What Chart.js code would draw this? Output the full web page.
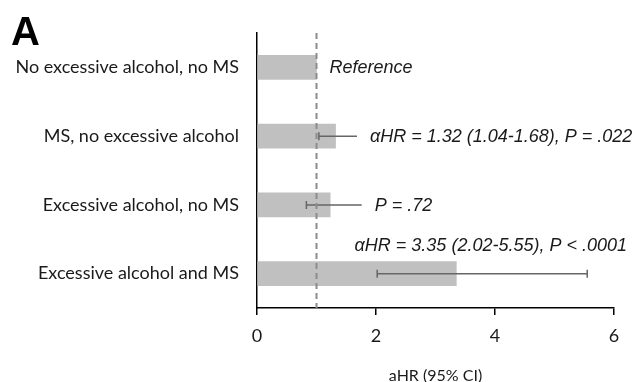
<!DOCTYPE html>
<html>
<head>
<meta charset="utf-8">
<script src="https://cdn.jsdelivr.net/npm/chart.js@4"></script>
<style>
  html, body { margin: 0; padding: 0; background: #fff; }
  #chart { display: block; }
</style>
</head>
<body>
<canvas id="chart" width="633" height="382"></canvas>
<script>
// Hazard ratios by group
const categories = [
    'No excessive alcohol, no MS',
    'MS, no excessive alcohol',
    'Excessive alcohol, no MS',
    'Excessive alcohol and MS'
];
const hrValues = [1, 1.32, 1.23, 3.35];
const ciLow = [null, 1.04, 0.83, 2.02];
const ciHigh = [null, 1.68, 1.76, 5.55];
const notes = [
    'Reference',
    'αHR = 1.32 (1.04-1.68), P = .022',
    'P = .72',
    'αHR = 3.35 (2.02-5.55), P < .0001'
];
const xTicks = [0, 2, 4, 6];
const refValue = 1;

const labelFont = { family: 'Lato, "Open Sans", sans-serif', size: 18 };
// the original only shows a right-hand cap on the last whisker
const rightCap = [false, false, false, true];

// draws the dashed reference line, CI whiskers, notes and the panel letter
const extrasPlugin = {
    id: 'extras',
    afterDatasetsDraw(chart) {
        const ctx = chart.ctx;
        const x = chart.scales.x;
        const y = chart.scales.y;
        const area = chart.chartArea;
        ctx.save();

        // whiskers
        ctx.strokeStyle = '#666';
        ctx.lineWidth = 1.5;
        hrValues.forEach((v, i) => {
            if (ciLow[i] == null) return;
            const cy = y.getPixelForValue(i);
            const x1 = x.getPixelForValue(ciLow[i]);
            const x2 = x.getPixelForValue(ciHigh[i]);
            ctx.beginPath();
            ctx.moveTo(x1, cy); ctx.lineTo(x2, cy);
            ctx.moveTo(x1, cy - 4); ctx.lineTo(x1, cy + 4);
            if (rightCap[i]) {
                ctx.moveTo(x2, cy - 4); ctx.lineTo(x2, cy + 4);
            }
            ctx.stroke();
        });

        // dashed line at HR = 1
        const rx = x.getPixelForValue(refValue);
        ctx.strokeStyle = '#8c8c8c';
        ctx.lineWidth = 2;
        ctx.setLineDash([6, 4]);
        ctx.beginPath();
        ctx.moveTo(rx, area.top);
        ctx.lineTo(rx, area.bottom);
        ctx.stroke();
        ctx.setLineDash([]);

        // notes
        ctx.fillStyle = '#1a1a1a';
        ctx.font = 'italic 18px "Liberation Sans", Arial, sans-serif';
        ctx.textBaseline = 'middle';
        notes.forEach((t, i) => {
            const cy = y.getPixelForValue(i);
            if (i === notes.length - 1) {
                ctx.textAlign = 'right';
                ctx.fillText(t, area.right + 13, cy - 28);
            } else {
                const end = Math.max(hrValues[i], ciHigh[i] || 0);
                ctx.textAlign = 'left';
                ctx.fillText(t, x.getPixelForValue(end) + 13, cy + 1);
            }
        });

        // panel letter
        ctx.font = 'bold 40px "Liberation Sans", Arial, sans-serif';
        ctx.textAlign = 'left';
        ctx.textBaseline = 'alphabetic';
        ctx.fillStyle = '#000';
        ctx.fillText('A', 11, 45);
        ctx.restore();
    }
};

const ctx = document.getElementById('chart').getContext('2d');
const hrChart = new Chart(ctx, {
    type: 'bar',
    data: {
        labels: categories,
        datasets: [{
            data: hrValues,
            backgroundColor: '#c0c0c0',
            borderWidth: 0,
            barThickness: 24
        }]
    },
    options: {
        indexAxis: 'y',
        responsive: false,
        animation: false,
        devicePixelRatio: 1,
        layout: { padding: { top: 33, right: 19, left: 0, bottom: 0 } },
        plugins: {
            legend: { display: false },
            tooltip: { enabled: false }
        },
        scales: {
            x: {
                min: 0,
                max: 6,
                afterBuildTicks: scale => {
                    scale.ticks = xTicks.map(v => ({ value: v }));
                },
                afterFit: scale => { scale.height = 74; },
                grid: { drawOnChartArea: false, drawTicks: true, tickLength: 7, color: '#000', lineWidth: 1.5 },
                border: { color: '#000', width: 1.5 },
                ticks: { padding: 10, color: '#1a1a1a', font: labelFont },
                title: {
                    display: true,
                    text: 'aHR (95% CI)',
                    color: '#1a1a1a',
                    font: { family: labelFont.family, size: 16 },
                    padding: { top: 0, bottom: -3 }
                }
            },
            y: {
                grid: { display: false },
                border: { display: true, color: '#000', width: 1.5 },
                ticks: { padding: 10, color: '#1a1a1a', font: labelFont },
                afterFit: scale => { scale.width = 257; }
            }
        }
    },
    plugins: [extrasPlugin]
});
</script>
</body>
</html>
